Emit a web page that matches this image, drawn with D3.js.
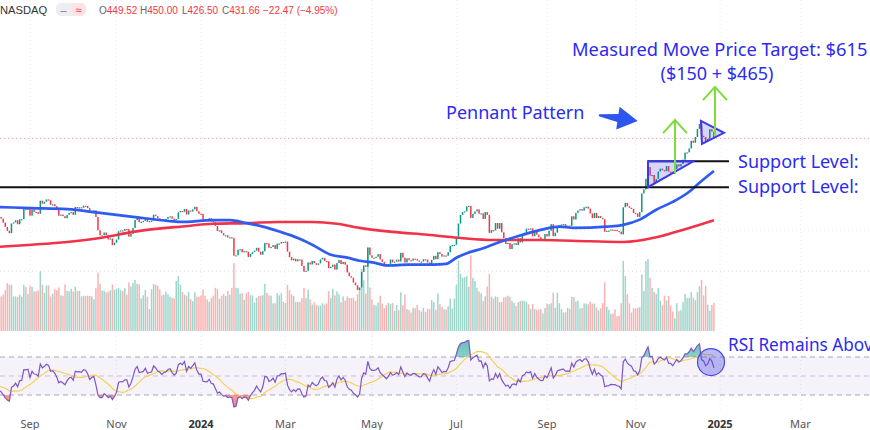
<!DOCTYPE html>
<html><head><meta charset="utf-8">
<script src="https://cdn.jsdelivr.net/npm/d3@7"></script>
<style>body{margin:0;background:#fff}svg{display:block;font-family:"Noto Sans",sans-serif}</style>
</head><body><svg id="c" width="870" height="430"></svg>
<script>
// ---------- DATA ----------
// daily closes, Aug 11 2023 .. Dec 27 2024 (348 bars)
const closes = [
242.65,239.76,232.96,225.60,219.22,215.49,231.28,233.19,236.86,230.04,238.59,238.82,257.18,256.90,258.08,
245.01,256.49,251.92,251.49,248.50,273.58,267.48,271.30,276.04,274.39,265.28,266.50,262.59,255.70,244.88,246.99,244.12,240.50,246.38,250.22,
251.60,246.53,261.16,260.05,260.53,259.67,263.62,262.99,258.87,251.12,253.92,254.85,242.68,220.11,211.99,212.08,216.52,212.42,205.76,207.30,197.36,200.84,
205.66,218.51,219.96,219.27,222.18,222.11,209.98,214.65,223.71,237.41,242.84,233.59,234.30,235.60,241.20,234.21,235.45,236.08,246.72,244.14,240.08,
238.83,235.58,238.72,239.37,242.64,243.84,239.74,237.01,239.29,251.05,253.50,252.08,257.22,247.14,254.50,252.54,256.61,261.44,253.18,248.48,
248.42,238.45,237.93,237.49,240.45,234.96,233.94,227.22,218.89,219.91,215.55,211.88,212.19,208.80,209.14,207.83,182.63,183.25,190.93,191.59,187.29,
188.86,187.91,181.06,185.10,187.58,189.56,193.57,188.13,184.02,188.71,200.45,199.95,193.76,194.77,197.41,191.97,199.40,199.73,202.04,201.88,
202.64,188.14,180.74,176.54,178.65,175.34,177.77,177.54,169.48,162.50,163.57,173.80,171.32,175.66,172.82,170.83,172.63,177.67,179.83,175.79,
175.22,166.63,168.38,171.11,164.90,172.98,176.88,171.76,174.60,171.05,161.48,157.11,155.45,149.93,147.05,142.05,144.68,162.13,170.18,168.29,194.05,183.28,
179.99,180.01,181.19,184.76,177.81,174.72,171.97,168.47,171.89,177.55,173.99,174.84,177.46,174.95,186.60,180.11,173.74,179.24,176.75,176.19,178.79,178.08,
176.29,174.77,175.00,177.94,177.48,173.79,170.66,177.29,182.47,178.01,187.44,184.86,181.57,183.01,182.58,187.35,196.37,197.42,197.88,
209.86,231.26,246.39,251.52,252.94,262.33,263.26,241.03,248.23,252.64,256.56,248.50,249.23,239.20,251.51,246.38,215.99,220.25,219.80,232.10,222.62,232.07,
216.86,207.67,198.88,200.64,191.76,198.84,200.00,197.49,207.83,201.38,214.14,216.12,222.72,221.10,223.27,210.66,220.32,213.21,209.21,205.75,206.28,214.11,
210.60,219.41,230.17,210.73,216.27,226.17,228.13,229.81,230.29,226.78,227.87,227.20,243.92,238.25,250.00,254.27,257.02,254.22,260.46,261.63,
258.02,249.02,240.66,250.08,240.83,244.50,241.05,238.77,217.80,219.16,219.57,221.33,220.89,220.70,218.85,217.97,213.65,260.48,269.19,262.51,259.52,257.55,249.85,
248.98,242.84,251.44,288.53,296.91,321.22,350.00,328.49,330.24,311.18,320.72,338.74,346.00,342.03,339.64,352.56,338.59,338.23,332.89,345.16,
357.09,351.42,357.93,369.49,389.22,389.79,400.99,424.77,418.10,436.23,463.02,479.86,440.13,436.17,421.06,430.60,462.28,454.13,431.66
];
// closes before the visible window (Jul 3 .. Aug 10 2023), used for the RSI warm-up
const priorCloses = [279.82,282.48,276.54,274.43,269.61,269.79,271.99,277.90,281.38,290.38,293.34,291.26,
262.90,260.02,269.06,265.28,264.35,255.71,266.44,267.43,261.07,254.11,259.32,253.86,251.45,249.70,242.19,245.34];
// daily volume, millions
const volumes = [
98,101,106,120,140,135,135,101,101,99,106,100,135,128,108,
132,129,116,116,118,174,135,111,133,133,101,109,122,119,127,104,102,136,117,116,
123,115,129,117,117,101,103,102,103,102,101,93,125,170,138,118,118,113,115,119,136,120,
123,125,119,117,125,106,142,130,140,149,138,136,95,104,120,100,64,122,137,135,132,
121,104,106,115,107,100,97,95,146,160,135,114,106,103,114,93,87,113,100,100,
104,121,103,92,85,96,103,126,123,94,103,108,102,117,106,126,198,126,125,109,110,
91,110,114,104,104,83,97,102,102,105,138,111,104,103,81,81,110,104,110,85,
82,135,119,107,102,85,85,85,96,126,96,120,92,77,84,75,74,74,81,77,
81,116,96,123,104,115,107,84,101,89,101,96,96,97,88,107,124,181,148,109,243,127,
92,76,74,83,103,80,67,76,82,79,82,59,76,61,113,75,106,64,61,54,68,66,
76,61,57,68,56,65,64,90,84,62,110,78,70,63,63,72,95,66,95,
135,205,167,155,157,160,129,221,155,146,126,115,110,87,101,130,167,100,95,101,99,84,
85,98,100,103,100,87,82,73,84,88,89,88,85,78,65,79,64,62,62,64,51,67,
80,78,81,112,68,111,81,64,54,55,67,65,99,99,86,88,66,67,80,80,
78,86,80,80,69,60,66,82,142,71,62,50,51,63,43,44,81,204,160,107,80,54,67,
65,68,69,165,117,204,210,155,126,114,108,125,88,75,103,89,102,74,57,37,
81,58,61,84,108,96,97,114,97,90,114,131,149,104,132,77,59,76,82
];
// 50-day moving average
const ma50Bars   = [0,16,33,49,65,81,88,104,112,120,128,136,145,152,161,169,175,183,188,199,211,217,222,227,235,243,251,262,272,279,295,303,311,319,327,335,340,347];
const ma50Values = [261,259,257,250,243,236,234,237,237,232,226,218,208,198,184,180,176,173,170,171,171,172,180,186,193,202,210,220,226,224,226,229,238,256,271,292,312,340];
// 200-day moving average
const ma200Bars   = [0,16,33,49,65,81,88,104,120,136,152,164,175,191,208,224,240,263,287,303,319,327,339,347];
const ma200Values = [195,198,202,208,217.5,224,226,231,232,234,234,231,224,217.5,213,208,205,205,203,202,209,216,228,237];
// time axis
const tickBars   = [15,57,98,139,181,222,266,309,350,389];
const tickLabels = ["Sep","Nov","2024","Mar","May","Jul","Sep","Nov","2025","Mar"];
// annotations (bar index / price)
const supportLevels = [365, 302];
const pennant1 = [[315,365],[337,365],[315,302]];
const pennant2 = [[340.7,491],[341.2,415],[351.9,450]];
const targetArrows = [{bar:328.1, from:335, to:494, wing:449, dx:5.8},
                      {bar:347.5, from:439, to:630, wing:572, dx:5.8}];
const header = {o:"449.52", h:"450.00", l:"426.50", c:"431.66", chg:"\u221222.47 (\u22124.95%)"};
const lastClose = 431.66;

// ---------- SCALES ----------
const svg = d3.select("#c");
const x  = d3.scaleLinear().domain([0, 422]).range([-0.9, 868.4]);
const yP = d3.scaleLog().domain([100, 600]).range([337.8, 93.6]);
const yV = d3.scaleLinear().domain([0, 245]).range([331, 247]);
const yR = d3.scaleLinear().domain([0, 100]).range([423.5, 328.5]);

const UP = "#089981", DN = "#f23645";
const bars = closes.map((c, i) => ({i, c, o: i === 0 ? priorCloses[priorCloses.length - 1] : closes[i - 1], v: volumes[i]}));

// ---------- GRID ----------
const grid = svg.append("g");
grid.selectAll("line.v").data(tickBars).join("line")
  .attr("x1", d => x(d)).attr("x2", d => x(d)).attr("y1", 0).attr("y2", 412)
  .attr("stroke", "#e9e9ef").attr("stroke-dasharray", "1,3");
grid.selectAll("line.h").data([163, 220]).join("line")
  .attr("x1", 0).attr("x2", 870).attr("y1", d => yP(d)).attr("y2", d => yP(d))
  .attr("stroke", "#e9e9ef").attr("stroke-dasharray", "1,3");
svg.append("line").attr("x1", 0).attr("x2", 870).attr("y1", yV(175)).attr("y2", yV(175))
  .attr("stroke", "#e4e4ea").attr("stroke-dasharray", "1,3");
svg.append("line").attr("x1", 0).attr("x2", 870).attr("y1", yP(lastClose)).attr("y2", yP(lastClose))
  .attr("stroke", "#f5a0a8").attr("stroke-dasharray", "1,3");

// ---------- VOLUME ----------
svg.append("g").selectAll("rect").data(bars).join("rect")
  .attr("x", d => x(d.i) - 0.75).attr("width", 1.5)
  .attr("y", d => yV(d.v)).attr("height", d => yV(0) - yV(d.v))
  .attr("fill", d => d.c >= d.o ? "#9fd6cc" : "#f8b3b3");

// ---------- CANDLES ----------
svg.append("g").selectAll("rect").data(bars).join("rect")
  .attr("x", d => x(d.i) - 0.75).attr("width", 1.5)
  .attr("y", d => yP(Math.max(d.o, d.c)))
  .attr("height", d => Math.max(1.2, Math.abs(yP(d.o) - yP(d.c))))
  .attr("fill", d => d.c >= d.o ? UP : DN);

// ---------- MOVING AVERAGES ----------
const maLine = d3.line().x(d => x(d[0])).y(d => yP(d[1])).curve(d3.curveMonotoneX);
svg.append("path").datum(ma200Bars.map((b, k) => [b, ma200Values[k]]))
  .attr("d", maLine).attr("fill", "none").attr("stroke", "#f0334a").attr("stroke-width", 2.6);
svg.append("path").datum(ma50Bars.map((b, k) => [b, ma50Values[k]]))
  .attr("d", maLine).attr("fill", "none").attr("stroke", "#2f5cf0").attr("stroke-width", 2.7);

// ---------- ANNOTATIONS ----------
const BLUE = "#2b2bef";
svg.selectAll("line.sup").data(supportLevels).join("line")
  .attr("x1", (d, k) => k === 0 ? x(315) : 0).attr("x2", x(354.3))
  .attr("y1", d => yP(d)).attr("y2", d => yP(d))
  .attr("stroke", "#111").attr("stroke-width", 2);
[pennant1, pennant2].forEach(p => {
  svg.append("path").attr("d", "M" + p.map(q => [x(q[0]), yP(q[1])].join(",")).join("L") + "Z")
    .attr("fill", "rgba(70,70,225,0.22)").attr("stroke", "#3a3ae6").attr("stroke-width", 2);
});
targetArrows.forEach(a => {
  const g = svg.append("g").attr("stroke", "#7ddc3a").attr("stroke-width", 2).attr("fill", "none");
  g.append("line").attr("x1", x(a.bar)).attr("x2", x(a.bar)).attr("y1", yP(a.from)).attr("y2", yP(a.to));
  g.append("path").attr("d", `M${x(a.bar - a.dx)},${yP(a.wing)}L${x(a.bar)},${yP(a.to)}L${x(a.bar + a.dx)},${yP(a.wing)}`);
});
// blue pointer arrow
(function(){
  const tx = x(291.2), ty = yP(512), hx = x(310), hy = yP(491);
  const dx = hx - tx, dy = hy - ty, L = Math.hypot(dx, dy), ux = dx / L, uy = dy / L, nx = -uy, ny = ux;
  const hl = 20, hw = 11.5;
  const bx = hx - ux * hl, by = hy - uy * hl;
  const pts = [[tx + nx * 1, ty + ny * 1], [bx + nx * 4, by + ny * 4], [bx + nx * hw, by + ny * hw], [hx, hy],
               [bx - nx * hw, by - ny * hw], [bx - nx * 4, by - ny * 4], [tx - nx * 1, ty - ny * 1]];
  svg.append("path").attr("d", "M" + pts.map(p => p.join(",")).join("L") + "Z").attr("fill", "#2d55f0");
})();

const txt = (s, px, py, size, anchor) => svg.append("text").attr("x", px).attr("y", py)
  .attr("font-size", size).attr("fill", BLUE).attr("text-anchor", anchor || "start").text(s);
txt("Measured Move Price Target: $615", 572, 56, 18.3);
txt("($150 + $465)", 717, 80, 18, "middle");
txt("Pennant Pattern", 446, 119, 18);
txt("Support Level:", 738, 168, 18);
txt("Support Level:", 738, 193, 18);
txt("RSI Remains Abov", 728, 351, 17.2);

// ---------- RSI ----------
const all = priorCloses.concat(closes);
const P = 14, off = priorCloses.length;
let ag = 0, al = 0; const rsiAll = [];
for (let k = 1; k < all.length; k++) {
  const ch = all[k] - all[k - 1], g = Math.max(ch, 0), l = Math.max(-ch, 0);
  if (k <= P) { ag += g / P; al += l / P; if (k === P) rsiAll[k] = 100 - 100 / (1 + ag / al); }
  else { ag = (ag * (P - 1) + g) / P; al = (al * (P - 1) + l) / P; rsiAll[k] = 100 - 100 / (1 + ag / al); }
}
const rsi = closes.map((c, i) => ({i, v: rsiAll[i + off]}));
const sig = closes.map((c, i) => ({i, v: d3.mean(rsiAll.slice(i + off - 13, i + off + 1))}));

svg.append("rect").attr("x", 0).attr("width", 870).attr("y", yR(70)).attr("height", yR(30) - yR(70))
  .attr("fill", "rgba(126,87,194,0.08)");
svg.selectAll("line.rl").data([70, 50, 30]).join("line")
  .attr("x1", 0).attr("x2", 870).attr("y1", d => yR(d)).attr("y2", d => yR(d))
  .attr("stroke", d => d === 50 ? "#c9c0e0" : "#a9a7b4").attr("stroke-dasharray", "5,4").attr("stroke-width", 1);

const defs = svg.append("defs");
const gg = defs.append("linearGradient").attr("id", "ob").attr("x1", 0).attr("x2", 0).attr("y1", 0).attr("y2", 1);
gg.append("stop").attr("offset", "0%").attr("stop-color", "#26a69a").attr("stop-opacity", 0.7);
gg.append("stop").attr("offset", "100%").attr("stop-color", "#26a69a").attr("stop-opacity", 0.05);
const gr = defs.append("linearGradient").attr("id", "os").attr("x1", 0).attr("x2", 0).attr("y1", 0).attr("y2", 1);
gr.append("stop").attr("offset", "0%").attr("stop-color", "#ef5350").attr("stop-opacity", 0.05);
gr.append("stop").attr("offset", "100%").attr("stop-color", "#ef5350").attr("stop-opacity", 0.7);
defs.append("clipPath").attr("id", "cob").append("rect").attr("x", 0).attr("width", 870).attr("y", 320).attr("height", yR(70) - 320);
defs.append("clipPath").attr("id", "cos").append("rect").attr("x", 0).attr("width", 870).attr("y", yR(30)).attr("height", 40);
svg.append("path").datum(rsi).attr("clip-path", "url(#cob)").attr("fill", "url(#ob)")
  .attr("d", d3.area().x(d => x(d.i)).y0(yR(70)).y1(d => yR(d.v)));
svg.append("path").datum(rsi).attr("clip-path", "url(#cos)").attr("fill", "url(#os)")
  .attr("d", d3.area().x(d => x(d.i)).y0(yR(30)).y1(d => yR(d.v)));
svg.append("path").datum(sig).attr("fill", "none").attr("stroke", "#f5cf4a").attr("stroke-width", 1.1)
  .attr("d", d3.line().x(d => x(d.i)).y(d => yR(d.v)));
svg.append("path").datum(rsi).attr("fill", "none").attr("stroke", "#7e57c2").attr("stroke-width", 1.2)
  .attr("d", d3.line().x(d => x(d.i)).y(d => yR(d.v)));
svg.append("circle").attr("cx", x(345.6)).attr("cy", yR(64.7)).attr("r", 13.5)
  .attr("fill", "rgba(80,80,225,0.38)").attr("stroke", "#4a4ae0").attr("stroke-width", 1.2);

// ---------- TIME AXIS ----------
svg.selectAll("text.tk").data(tickBars).join("text")
  .attr("x", d => x(d)).attr("y", 428).attr("text-anchor", "middle")
  .attr("font-size", 11).attr("font-weight", (d, k) => /^\d/.test(tickLabels[k]) ? 700 : 400)
  .attr("fill", (d, k) => /^\d/.test(tickLabels[k]) ? "#333" : "#555")
  .text((d, k) => tickLabels[k]);

// ---------- HEADER ----------
const hd = svg.append("g").attr("font-size", 10).attr("font-family", "'Liberation Sans', Arial, sans-serif");
hd.append("text").attr("x", 0).attr("y", 14).attr("font-size", 11.2).attr("fill", "#333").text("NASDAQ");
hd.append("rect").attr("x", 56).attr("y", 3).attr("width", 30).attr("height", 13).attr("rx", 5).attr("fill", "#eeeef2");
hd.append("rect").attr("x", 71).attr("y", 3).attr("width", 15).attr("height", 13).attr("rx", 5).attr("fill", "#fbe3e6");
hd.append("text").attr("x", 63.5).attr("y", 13.5).attr("text-anchor", "middle").attr("font-size", 11).attr("fill", "#777").text("\u2012");
hd.append("text").attr("x", 78.5).attr("y", 13.5).attr("text-anchor", "middle").attr("font-size", 11).attr("fill", DN).text("\u2248");
const parts = [["O", header.o, 99], ["H", header.h, 140], ["L", header.l, 182], ["C", header.c, 222]];
parts.forEach(p => {
  const t = hd.append("text").attr("x", p[2]).attr("y", 14);
  t.append("tspan").attr("fill", "#666").text(p[0]);
  t.append("tspan").attr("fill", DN).text(p[1]);
});
hd.append("text").attr("x", 263).attr("y", 14).attr("fill", DN).text(header.chg);
</script></body></html>
